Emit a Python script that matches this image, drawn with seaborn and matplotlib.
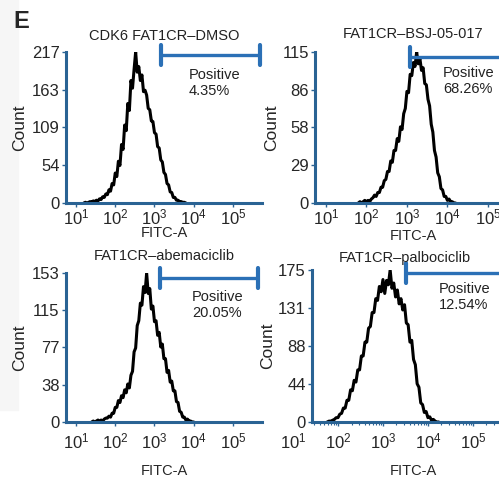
import numpy as np
import pandas as pd
import matplotlib
matplotlib.use('Agg')
import matplotlib.pyplot as plt
import matplotlib.ticker as mticker
from matplotlib.patches import Rectangle
import seaborn as sns

# panel texts
titles = ['CDK6 FAT1CR–DMSO', 'FAT1CR–BSJ-05-017', 'FAT1CR–abemaciclib', 'FAT1CR–palbociclib']
positive = ['4.35%', '68.26%', '20.05%', '12.54%']
y_ticks = [[0, 54, 109, 163, 217],
           [0, 29, 58, 86, 115],
           [0, 38, 77, 115, 153],
           [0, 44, 88, 131, 175]]
x_ticks = [1e1, 1e2, 1e3, 1e4, 1e5]
x_tick_labels = [r'$\mathregular{10^{%d}}$' % k for k in range(1, 6)]

# histograms: first channel (log10 FITC-A), bins 0.04 decades wide
start_exp = [1.20, 1.80, 1.40, 1.76]
counts_dmso = [0, 1, 0, 1, 2, 1, 3, 2, 4, 3,
               6, 5, 9, 8, 13, 12, 19, 17, 28, 26,
               43, 38, 60, 54, 84, 77, 112, 104, 143, 133,
               176, 165, 192, 217, 188, 196, 176, 184, 160, 162,
               155, 136, 134, 118, 117, 101, 99, 81, 79, 62,
               59, 44, 41, 28, 26, 16, 15, 8, 8, 4,
               4, 2, 2, 1, 1, 0]
counts_bsj = [0, 1, 0, 1, 2, 1, 2, 1, 3, 4,
              6, 5, 8, 8, 12, 12, 17, 18, 24, 24,
              32, 31, 40, 40, 49, 47, 58, 56, 68, 72,
              85, 84, 98, 97, 107, 104, 115, 106, 110, 101,
              103, 91, 90, 79, 74, 60, 54, 40, 35, 23,
              20, 11, 10, 5, 5, 2, 3, 1, 1, 0, 0]
counts_abema = [0, 1, 0, 1, 2, 1, 2, 1, 3, 4,
                4, 6, 5, 9, 9, 15, 15, 22, 20, 27,
                25, 33, 30, 39, 35, 48, 52, 72, 76, 99,
                104, 122, 120, 139, 133, 153, 132, 137, 116, 119,
                103, 104, 89, 92, 77, 80, 65, 65, 51, 53,
                41, 42, 32, 32, 21, 20, 11, 10, 5, 5,
                2, 3, 1, 1, 0, 0]
counts_palbo = [0, 1, 1, 2, 3, 5, 5, 9, 10, 16,
                16, 25, 25, 37, 36, 48, 46, 60, 60, 76,
                76, 92, 92, 108, 110, 126, 126, 142, 140, 156,
                150, 164, 148, 163, 158, 175, 154, 160, 144, 152,
                136, 142, 129, 135, 114, 112, 92, 94, 72, 66,
                44, 40, 22, 20, 11, 12, 5, 6, 2, 3,
                1, 0, 0]
all_counts = [counts_dmso, counts_bsj, counts_abema, counts_palbo]

sns.set_style('ticks')
plt.rcParams['font.family'] = ['Liberation Sans', 'DejaVu Sans']
plt.rcParams['mathtext.fontset'] = 'custom'
plt.rcParams['mathtext.rm'] = 'Liberation Sans'

W, H = 499, 478
fig = plt.figure(figsize=(W / 100, H / 100), dpi=100)
fig.patch.set_facecolor('white')
fig.patches.append(Rectangle((0, 1 - 410 / H), 18 / W, 410 / H, transform=fig.transFigure,
                             color='#f6f6f6', zorder=-1))
fig.text(13 / W, 1 - 28 / H, 'E', fontsize=17, fontweight='bold', va='baseline')

spine_col = '#2a6394'
gate_col = '#2b70b6'

# layout in pixels: left, top, width, height
# (last panel: its 10^1 label sits left of the y axis, so the box starts earlier
#  and the left spine is moved in to 10^1.42)
boxes = [(66, 52, 196, 151), (315, 52, 196, 151), (66, 273, 196, 149), (288.5, 270, 219.5, 152)]
xlims = [(0.745, 5.74), (0.73, 5.57), (0.745, 5.74), (0.9, 5.78)]
spine_start = [None, None, None, 1.42]
title_pad = [8.6, 10, 9.4, 5.8]
title_x = [0.5, 0.5, 0.5, 0.531]
xtick_pad = [0, 0, 3.5, 3.5]
xlabel_xy = [(0.5, -0.15), (0.5, -0.17), (0.5, -0.282), (0.567, -0.276)]
ylabel_x = [-0.199, -0.184, -0.199, -0.0615]
gate = [(0.485, 0.99, 0.98), (0.485, 1.0, 0.967), (0.48, 0.98, 0.966), (0.535, 1.0, 0.98)]
pos_xy = [(0.628, 0.795), (0.653, 0.808), (0.643, 0.785), (0.686, 0.822)]

for i in range(4):
    l, t, w, h = boxes[i]
    ax = fig.add_axes([l / W, 1 - (t + h) / H, w / W, h / H])
    ax.set_facecolor('white')
    ax.set_xscale('log')
    counts = all_counts[i]
    exps = start_exp[i] + 0.04 * np.arange(len(counts))
    df = pd.DataFrame({'FITC-A': 10 ** exps, 'Count': counts})
    sns.lineplot(data=df, x='FITC-A', y='Count', ax=ax, color='black', lw=2.2,
                 estimator=None, sort=False)
    ax.set_xlim(10 ** xlims[i][0], 10 ** xlims[i][1])
    ax.set_ylim(0, y_ticks[i][-1])

    for s in ['top', 'right']:
        ax.spines[s].set_visible(False)
    for s in ['left', 'bottom']:
        ax.spines[s].set_color(spine_col)
        ax.spines[s].set_linewidth(2.2)
    if spine_start[i] is not None:
        # moving the spine resets the y ticks, so do it before styling them
        x_start = 10 ** spine_start[i]
        ax.spines['left'].set_position(('data', x_start))
        ax.spines['bottom'].set_bounds(x_start, 10 ** xlims[i][1])

    ax.set_yticks(y_ticks[i])
    ax.set_yticklabels([str(v) for v in y_ticks[i]], fontsize=12)
    ax.set_xticks(x_ticks)
    ax.set_xticklabels(x_tick_labels, fontsize=12)
    ax.tick_params(axis='x', which='major', length=3, width=1, color=spine_col,
                   pad=xtick_pad[i], labelsize=12)
    ax.tick_params(axis='x', which='minor', length=2, width=0.8, color=spine_col)
    ax.tick_params(axis='y', length=3, width=1, color=spine_col, pad=1.5, labelsize=12)
    if spine_start[i] is not None:
        ax.xaxis.get_major_ticks()[0].tick1line.set_visible(False)
        minors = [k * 10 ** d for d in range(1, 6) for k in range(2, 10) if k * 10 ** d > x_start]
        ax.xaxis.set_minor_locator(mticker.FixedLocator(minors))

    ax.set_title(titles[i], fontsize=10.5, pad=title_pad[i], color='#222222', x=title_x[i])
    ax.set_xlabel('FITC-A', fontsize=10.5)
    ax.set_ylabel('Count', fontsize=12.5)
    ax.xaxis.set_label_coords(*xlabel_xy[i])
    ax.yaxis.set_label_coords(ylabel_x[i], 0.5)

    # positive gate
    x0, x1, gy = gate[i]
    ax.plot([x0, x1], [gy, gy], transform=ax.transAxes, color=gate_col, lw=2.4,
            clip_on=False, solid_capstyle='butt')
    for gx in [x0, x1]:
        ax.plot([gx, gx], [gy - 10 / h, gy + 10 / h], transform=ax.transAxes, color=gate_col,
                lw=3, clip_on=False, solid_capstyle='round')
    ax.text(pos_xy[i][0], pos_xy[i][1], 'Positive\n' + positive[i], transform=ax.transAxes,
            ha='left', va='center', fontsize=10.5, linespacing=1.25, color='#222222')

fig.savefig('out.png', dpi=100)
